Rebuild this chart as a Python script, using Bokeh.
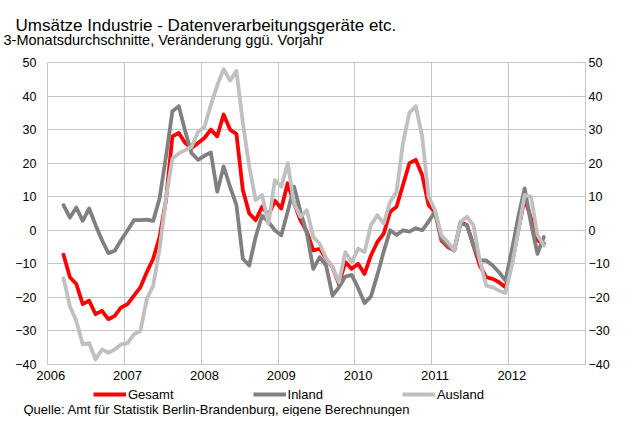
from bokeh.plotting import figure
from bokeh.models import FixedTicker, LinearAxis, Label, Legend, LegendItem
from bokeh.layouts import column
from bokeh.embed import file_html
from bokeh.resources import INLINE

# ---- data (monthly, 3-month averages, % change vs previous year) ----
first_year = 2006
first_month = 3  # March 2006
gesamt = [-7.3, -14, -16, -22, -21, -25, -24, -26.5, -25.5, -23, -22, -19.5,
          -17, -12.5, -8.5, -2, 9, 28, 29, 26, 24.5, 26, 27.5, 30,
          28, 34.5, 30, 28.7, 12, 5, 3, 7, 4.5, 8.8, 6.5, 14,
          8, 3, -0.5, -6, -5.5, -8.5, -11, -16, -9.5, -11.5, -10, -13,
          -7.5, -3.5, -1, 5.5, 7, 13.5, 20, 21, 16.5, 7.5, 5.5, -3,
          -5, -6, 2.5, 1.5, -4.5, -10.5, -14, -14.5, -15.5, -17, -10, 0,
          9.5, 3.5, -3, -4]
inland = [7.5, 3.8, 6.8, 2.8, 6.5, 1.6, -2.9, -6.8, -6.1, -2.9, 0, 3,
          3, 3.2, 2.8, 9.5, 22, 35.5, 37, 29.5, 23, 21, 22.2, 23.2,
          11.5, 19, 13, 7.5, -8.5, -10.5, -2, 4.4, 2.5, 0, -1.5, 5.5,
          13, 5.5, -1, -11.5, -8, -10.5, -19.5, -17, -13.8, -13.3, -17.2, -21.7,
          -19.7, -13.3, -6.3, 0, -1.4, 0, -0.4, 0.6, 0, 2.6, 5.5, -2.5,
          -4.5, -6, 2, 1.5, -4.5, -9, -9, -10.5, -12.5, -15, -6, 4,
          12.5, 2, -7, -2]
ausland = [-14.3, -22.7, -27, -34, -33.6, -38.5, -35.5, -36.5, -35.5, -34, -33.6, -31,
           -30, -20.5, -16.5, -5.5, 9.5, 21.4, 22.9, 23.9, 24.9, 29.3, 30.8, 37.3,
           43.2, 48, 44.6, 47.5, 32, 19, 9, 10.5, 2, 15, 13, 20,
           8, 4, 6, -2, -4, -8.3, -11, -15.5, -6.5, -9.5, -5.5, -6.5,
           1.6, 4.5, 2, 8.5, 11.5, 26, 35, 37, 28, 10, 6, -1.5,
           -3.5, -6, 2.5, 4, 1.5, -9, -16.5, -17, -18, -18.7, -10.5, -0.5,
           10.5, 10, -1.5, -4.5]
years = [2006, 2007, 2008, 2009, 2010, 2011, 2012]
year_labels = ["2006", "2007", "2008", "2009", "2010", "2011", "2012"]
y_ticks = [-40, -30, -20, -10, 0, 10, 20, 30, 40, 50]
series_names = ["Gesamt", "Inland", "Ausland"]
series_colors = ["#ff0000", "#808080", "#c0c0c0"]

title_text = "Umsätze Industrie - Datenverarbeitungsgeräte etc."
subtitle_text = "3-Monatsdurchschnitte, Veränderung ggü. Vorjahr"
source_text = "Quelle: Amt für Statistik Berlin-Brandenburg, eigene Berechnungen"

# month centres as fractional years
xs = [first_year + (first_month - 1 + i + 0.5) / 12.0 for i in range(len(gesamt))]
series = [gesamt, inland, ausland]

FONT = "Liberation Sans"
GRID = "#c4c4c4"
W = 612
LINE_W = 3.8


def no_align(f):
    if "frame_align" in f.properties():
        f.frame_align = False
    return f


def text_strip(height):
    f = figure(width=W, height=height, x_range=(0, 1), y_range=(0, 1),
               output_backend="svg", toolbar_location=None,
               x_axis_type=None, y_axis_type=None,
               min_border_left=0, min_border_right=0, min_border_top=0, min_border_bottom=0)
    f.title.visible = False
    f.outline_line_color = None
    f.background_fill_color = "white"
    f.border_fill_color = "white"
    return no_align(f)


# ---- title strip ----
top = text_strip(50)
top.add_layout(Label(x=15, y=25, x_units="screen", y_units="screen", text=title_text,
                     text_font=FONT, text_font_size="17px", text_color="#000000",
                     text_baseline="alphabetic"))
top.add_layout(Label(x=3, y=10.5, x_units="screen", y_units="screen", text=subtitle_text,
                     text_font=FONT, text_font_size="14.5px", text_color="#000000",
                     text_baseline="alphabetic"))

# ---- main chart ----
p = figure(width=W, height=336, x_range=(2006, 2013), y_range=(-40, 50),
           output_backend="svg", toolbar_location=None,
           min_border_left=47, min_border_right=22, min_border_top=12, min_border_bottom=22)
no_align(p)
p.title.visible = False
p.background_fill_color = "white"
p.border_fill_color = "white"
p.outline_line_color = GRID
p.outline_line_width = 1

p.xaxis.ticker = FixedTicker(ticks=[y + 1 / 24 for y in years])
p.xaxis.major_label_overrides = {y + 1 / 24: lab for y, lab in zip(years, year_labels)}
p.xgrid.ticker = FixedTicker(ticks=list(range(2006, 2014)))
p.yaxis.ticker = FixedTicker(ticks=y_ticks)
p.ygrid.ticker = FixedTicker(ticks=y_ticks)
for g in (p.xgrid, p.ygrid):
    g.grid_line_color = GRID
    g.grid_line_width = 1

right = LinearAxis(ticker=FixedTicker(ticks=y_ticks))
p.add_layout(right, "right")

for ax in (p.xaxis[0], p.yaxis[0], right):
    ax.axis_line_color = None
    ax.major_tick_line_color = None
    ax.minor_tick_line_color = None
    ax.major_tick_out = 0
    ax.major_tick_in = 0
    ax.minor_tick_out = 0
    ax.major_label_text_font = FONT
    ax.major_label_text_color = "#000000"
p.xaxis.major_label_text_font_size = "13px"
p.yaxis[0].major_label_text_font_size = "12.5px"
right.major_label_text_font_size = "12.5px"
p.xaxis.major_label_standoff = 6
p.yaxis[0].major_label_standoff = 11
right.major_label_standoff = 3

for vals, col in zip(series, series_colors):
    p.line(xs, vals, line_color=col, line_width=LINE_W, line_join="round", line_cap="round")

# ---- legend + source strip (series drawn outside this strip's range; only the legend shows) ----
bottom = text_strip(30)
proxies = [bottom.line(xs, vals, line_color=col, line_width=LINE_W)
           for vals, col in zip(series, series_colors)]
legend = Legend(items=[LegendItem(label=n, renderers=[r]) for n, r in zip(series_names, proxies)],
                location=(93, 14), orientation="horizontal", spacing=79,
                glyph_width=33, glyph_height=16, label_height=16, label_standoff=2,
                padding=0, margin=0, border_line_color=None, background_fill_alpha=0,
                label_text_font=FONT, label_text_font_size="13px", label_text_color="#000000")
bottom.add_layout(legend)
bottom.add_layout(Label(x=23, y=7, x_units="screen", y_units="screen", text=source_text,
                        text_font=FONT, text_font_size="13px", text_color="#000000",
                        text_baseline="alphabetic"))

layout = column(top, p, bottom, spacing=0)
open("out.html", "w").write(file_html(layout, INLINE))
